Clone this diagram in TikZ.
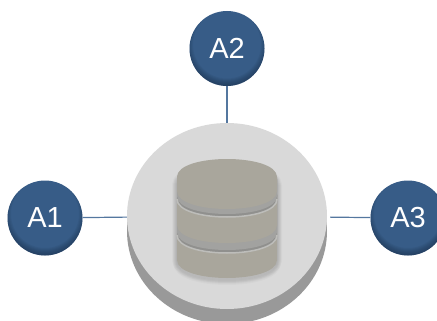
\documentclass[tikz,border=0pt]{standalone}
\usepackage{fontspec}
\setmainfont{Liberation Sans}
\usetikzlibrary{shapes.geometric}
\definecolor{ballblue}{HTML}{375C87}
\definecolor{balldark}{HTML}{12233A}
\definecolor{linkblue}{HTML}{54779F}
\definecolor{drumgray}{HTML}{A9A69C}
\definecolor{gapgray}{HTML}{90908E}
\definecolor{gaplight}{HTML}{BDBDBA}
\tikzset{
  ball/.style={circle, minimum size=75pt, inner sep=0pt, fill=ballblue, text=white,
    font=\fontsize{29}{29}\selectfont,
    path picture={
      \foreach \r in {40,39,...,34} {
        \fill[balldark, opacity=0.07, even odd rule] (path picture bounding box.center) ++(0,-4)
          circle (\r) circle (60);
      }
    }},
  hub/.style={ellipse, minimum width=200pt, minimum height=186pt, inner sep=0pt, fill=#1},
  link/.style={linkblue, line width=1.2pt},
  blur/.style={black, opacity=0.02, line join=round},
}
% side view of one drum, top of the sides at #1, bottom of the sides at #2
\newcommand{\drumpath}[2]{(177,#1) .. controls (177,#1-24) and (277,#1-24) .. (277,#1) -- (277,#2)
  .. controls (277,#2+24) and (177,#2+24) .. (177,#2) -- cycle}
\newcommand{\drumedge}[1]{(177,#1) .. controls (177,#1+24) and (277,#1+24) .. (277,#1)}
\begin{document}
\begin{tikzpicture}[x=1pt,y=-1pt]
  \useasboundingbox (0,0) rectangle (437,321);
  \clip (0,0) rectangle (437,321);

  \node[hub=black!40] at (227,231) {};
  \node[hub=black!15] (hub) at (227,216) {};

  \node[ball] (A1) at (45,218) {A1};
  \node[ball] (A2) at (227,48.5) {A2};
  \node[ball] (A3) at (408,218) {A3};

  \draw[link] (A1) -- (hub);
  \draw[link] (A2) -- (hub);
  \draw[link, shorten >=3pt] (A3) -- (hub);

  % soft shadow under the stack
  \foreach \w in {2,4,...,10} {
    \draw[blur, line width=\w pt] \drumpath{185}{260};
  }
  \foreach \w in {2,4,...,8} {
    \draw[blur, line width=\w pt] \drumpath{185}{263};
  }

  % lowest drum, then the two above it
  \fill[drumgray] \drumpath{195}{260};
  \fill[gapgray] \drumpath{195}{235};
  \fill[gapgray!60!gaplight] \drumpath{195}{232};
  \draw[gaplight, line width=1.5pt] \drumedge{235};
  \fill[drumgray] \drumpath{195}{225};
  \fill[gapgray] \drumpath{179}{199};
  \fill[gapgray!60!gaplight] \drumpath{179}{196};
  \draw[gaplight, line width=1.5pt] \drumedge{199};
  \fill[drumgray] \drumpath{177}{191};
\end{tikzpicture}
\end{document}
